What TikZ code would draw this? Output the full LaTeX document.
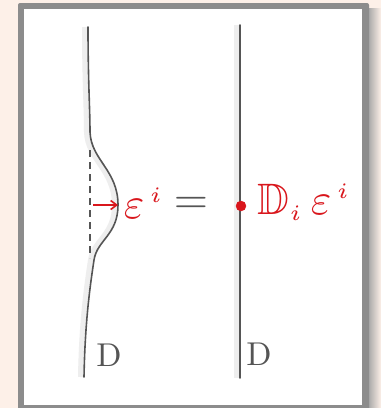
\documentclass[tikz,border=0pt]{standalone}
\usepackage{amssymb}
\usetikzlibrary{positioning}
\usetikzlibrary{arrows.meta}
\definecolor{paper}{HTML}{FDF0E8}
\definecolor{frame}{HTML}{8C8C8C}
\definecolor{pencil}{HTML}{555555}
\definecolor{ink}{HTML}{D9161C}

\begin{document}
\begin{tikzpicture}[x=1pt, y=-1pt,
		wire/.style={pencil, line width=1.6pt, line cap=round,
			preaction={draw, gray!13, line width=5pt, transform canvas={xshift=-3.5pt}}},
		big/.style={font=\normalsize, scale=4.4},
		mid/.style={font=\normalsize, scale=3.3}]
				\fill[paper] (0,0) rectangle (381,408);
				\useasboundingbox (0,0) rectangle (381,408);
				\shade[left color=gray!70, right color=paper] (368,8) rectangle (381,408);
				\fill[frame, rounded corners=2pt] (18,3) rectangle (369,412);
				\fill[white] (24,9) rectangle (362,405);
				\node[shape=coordinate] (lt) at (88,27) {};
				\node[shape=coordinate] (ls) at (90,132) {};
				\node[shape=coordinate] (lp) at (118,205) {};
				\node[shape=coordinate] (le) at (94,260) {};
				\node[shape=coordinate] (lb) at (84,377) {};
				\node[shape=coordinate] (da) at (90,150) {};
				\node[shape=coordinate] (db) at (90,258) {};
				\node[shape=coordinate] (as) at (93,205) {};
				\node[shape=coordinate] (rt) at (240,25) {};
				\node[shape=coordinate] (rb) at (240,378) {};
				\draw[wire] (lt) .. controls (88,80) and (90,110) .. (ls)
					.. controls (91,160) and (118,170) .. (lp)
					.. controls (118,235) and (97,240) .. (le)
					.. controls (90.4,284) and (85,320) .. (lb);
				\draw[wire] (rt) -- (rb);
				\draw[pencil, line width=1.4pt, dash pattern=on 7pt off 5pt] (da) -- (db);
				\draw[ink, line width=1.6pt, -{Straight Barb[length=6pt, width=9pt]}] (as) -- (lp);
				\node[ink, big, anchor=west, inner sep=0pt] (epsl) at (123,203) {$\varepsilon^{\scriptscriptstyle\,i}$};
				\node[pencil, big, inner sep=0pt] (eq) at (191,205) {$=$};
				\filldraw[ink] (241,206) circle (5);
				\node[shape=coordinate] (dot) at (241,206) {};
				\node[ink, big, anchor=west, inner sep=0pt] (rhs) at (257,202) {$\mathbb{D}_{\scriptscriptstyle i}\,\varepsilon^{\scriptscriptstyle\,i}$};
				\node[pencil, mid, inner sep=0pt] (dl) at (109,355) {D};
				\node[pencil, mid, inner sep=0pt] (dr) at (259,354) {D};
			\end{tikzpicture}
\end{document}
